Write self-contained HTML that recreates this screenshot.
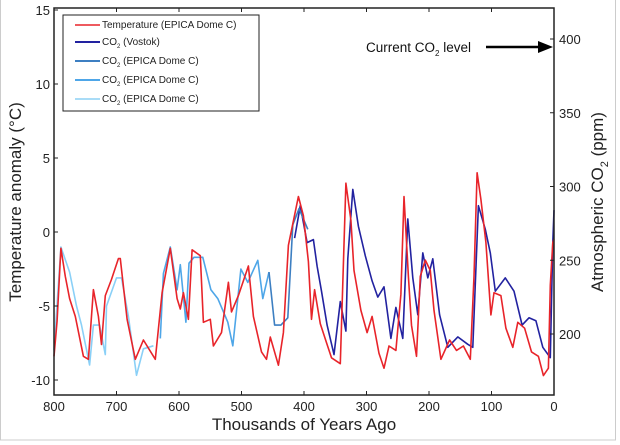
<!DOCTYPE html>
<html><head><meta charset="utf-8"><style>
html,body{margin:0;padding:0;background:#fff;}
svg{display:block;font-family:"Liberation Sans","DejaVu Sans",sans-serif;}
</style></head><body>
<svg id="c" width="620" height="445" viewBox="0 0 620 445" xmlns="http://www.w3.org/2000/svg">
<rect x="0" y="0" width="620" height="445" fill="#fff"/>
<rect x="0.5" y="-1" width="615" height="441" fill="none" stroke="#ccc" stroke-width="1"/>
<g id="series"></g>
<rect x="54" y="8" width="500" height="387" fill="none" stroke="#222" stroke-width="1.5"/>
<g id="ticks" font-size="13" fill="#222"></g>
<text x="0" y="0" transform="translate(21,202) rotate(-90)" text-anchor="middle" font-size="17" fill="#222">Temperature anomaly (°C)</text>
<text transform="translate(603,202) rotate(-90)" text-anchor="middle" font-size="17" fill="#222">Atmospheric CO<tspan font-size="11" dy="5">2</tspan><tspan dy="-5"> (ppm)</tspan></text>
<text x="304" y="430" text-anchor="middle" font-size="17" fill="#222">Thousands of Years Ago</text>
<g>
<text x="366" y="52" font-size="13.5" fill="#111">Current CO<tspan font-size="8" dy="4">2</tspan><tspan dy="-4"> level</tspan></text>
<line x1="486" y1="47" x2="540" y2="47" stroke="#000" stroke-width="2.5"/>
<polygon points="553,47 538,41 538,53" fill="#000"/>
</g>
<g font-size="10" fill="#222">
<rect x="63" y="15" width="196" height="96" fill="#fff" stroke="#222" stroke-width="1"/>
<line x1="75" y1="25" x2="100" y2="25" stroke="#e8242a" stroke-width="1.5"/><text x="102" y="28">Temperature (EPICA Dome C)</text>
<line x1="75" y1="42" x2="100" y2="42" stroke="#2222a0" stroke-width="2"/><text x="102" y="45">CO<tspan font-size="6" dy="3">2</tspan><tspan dy="-3">  (Vostok)</tspan></text>
<line x1="75" y1="61" x2="100" y2="61" stroke="#3d7fc2" stroke-width="2"/><text x="102" y="64">CO<tspan font-size="6" dy="3">2</tspan><tspan dy="-3">  (EPICA Dome C)</tspan></text>
<line x1="75" y1="80" x2="100" y2="80" stroke="#4ea6e8" stroke-width="2"/><text x="102" y="83">CO<tspan font-size="6" dy="3">2</tspan><tspan dy="-3">  (EPICA Dome C)</tspan></text>
<line x1="75" y1="99" x2="100" y2="99" stroke="#a9dcf7" stroke-width="2"/><text x="102" y="102">CO<tspan font-size="6" dy="3">2</tspan><tspan dy="-3">  (EPICA Dome C)</tspan></text>
</g>
</svg>
<script>
const tempAge=[800,795,789,782,775,766,753,745,737,729,724,718,708,697,694,683,670,657,638,627,614,603,598,593,585,579,566,561,550,545,532,521,516,505,489,481,468,460,454,441,433,425,409,401,393,388,383,374,363,356,342,333,325,320,309,299,291,280,272,264,253,245,240,233,228,220,214,206,198,192,181,167,156,145,134,128,123,117,109,101,96,85,77,66,58,47,36,25,17,9,6,2,0];
const tempVal=[-8.4,-6,-1.1,-3,-4.5,-5.7,-8.4,-8.6,-3.9,-5.7,-7.6,-4.3,-3.2,-1.8,-1.8,-5.9,-8.6,-7.3,-8.6,-4.1,-1.1,-4.5,-5.2,-4.1,-5.9,-1.2,-1.6,-6.1,-5.9,-7.7,-6.8,-3.4,-5.4,-4.3,-2.3,-5.7,-8.1,-8.6,-7.1,-9,-6.8,-0.9,2.4,1.1,-2,-5.9,-3.9,-6.2,-7.6,-8.5,-8.9,3.3,0.8,-2.6,-5.3,-6.8,-5.7,-8.2,-9.2,-7.7,-8,-4.2,2.4,-3,-6.3,-8.4,-3,-1.9,-2.6,-5.3,-8.6,-7.3,-8,-7.7,-8.6,-3,4,2.2,-0.7,-5.6,-4.1,-4.3,-6.5,-7.8,-6.1,-6.5,-8.1,-8.4,-9.7,-9.2,-3.6,-0.7,-0.5];
const vostokAge=[415,406,395,385,379,372,363,352,342,333,330,322,313,302,291,282,272,261,253,242,234,226,218,210,202,194,183,170,154,138,130,121,110,102,94,78,64,51,40,29,18,6,2,0];
const vostokVal=[265,287,262,264,246,229,206,186,222,202,251,298,273,253,236,225,232,197,218,197,278,238,213,255,238,251,213,191,198,193,191,287,271,255,229,238,229,206,211,209,191,184,262,284];
const epicaAge=[800,789,775,764,756,743,737,727,718,716,700,692,681,668,657,641,630,625,614,603,598,589,584,576,562,549,538,522,514,501,490,474,466,456,447,437,426,418,408,394];
const epicaVal=[189,259,242,219,206,179,206,206,186,219,238,238,212,172,190,192,197,241,259,230,247,208,248,252,252,230,224,208,192,244,235,250,224,242,206,206,211,274,285,271];
const xTicks=[800,700,600,500,400,300,200,100,0];
const tTicks=[-10,-5,0,5,10,15];
const cTicks=[200,250,300,350,400];
const NS="http://www.w3.org/2000/svg";
const xS=a=>554-a*0.625;
const tS=t=>232-t*14.8;
const cS=c=>334-(c-200)*1.475;
const ser=document.getElementById('series');
function line(ages,vals,yf,color,w,name){
  const p=document.createElementNS(NS,'polyline');
  p.setAttribute('points',ages.map((a,i)=>xS(a).toFixed(1)+','+yf(vals[i]).toFixed(1)).join(' '));
  p.setAttribute('fill','none');p.setAttribute('stroke',color);p.setAttribute('stroke-width',w);
  p.setAttribute('stroke-linejoin','round');
  
  
  ser.appendChild(p);
}
function seg(lo,hi,color,name){
  const a=[],v=[];
  epicaAge.forEach((x,i)=>{if(x<=hi&&x>=lo){a.push(x);v.push(epicaVal[i]);}});
  line(a,v,cS,color,1.6,name);
}
line(vostokAge,vostokVal,cS,'#2222a0',1.6,'co2-vostok-line');
seg(640,800,'#8ad0f7','co2-epica-line-3');
seg(450,640,'#4ea6e8','co2-epica-line-2');
seg(390,456,'#3d7fc2','co2-epica-line-1');
line(tempAge,tempVal,tS,'#e8242a',1.6,'temperature-line');
const tk=document.getElementById('ticks');
function txt(x,y,s,anchor,name){
  const t=document.createElementNS(NS,'text');
  t.setAttribute('x',x);t.setAttribute('y',y);t.setAttribute('text-anchor',anchor);
  t.textContent=s;
  
  
  tk.appendChild(t);
}
function tick(x1,y1,x2,y2){
  const l=document.createElementNS(NS,'line');
  l.setAttribute('x1',x1);l.setAttribute('y1',y1);l.setAttribute('x2',x2);l.setAttribute('y2',y2);
  l.setAttribute('stroke','#222');
  
  
  tk.appendChild(l);
}
xTicks.forEach(a=>{tick(xS(a),395,xS(a),391);tick(xS(a),8,xS(a),12);txt(xS(a),411,String(a),'middle','x-tick-label');});
tTicks.forEach(t=>{tick(54,tS(t),58,tS(t));txt(50,tS(t)+5,String(t),'end','y-left-tick-label');});
cTicks.forEach(c=>{tick(554,cS(c),550,cS(c));txt(559,cS(c)+5,String(c),'start','y-right-tick-label');});
</script>
</body></html>
